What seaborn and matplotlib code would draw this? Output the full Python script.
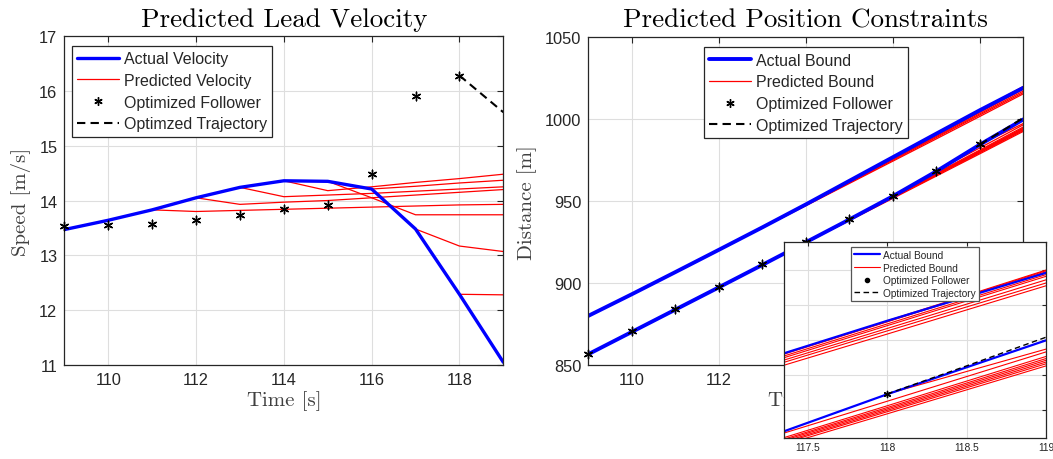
import numpy as np
import pandas as pd
import matplotlib
matplotlib.use("Agg")
import matplotlib.pyplot as plt
import seaborn as sns
from matplotlib.lines import Line2D

# ---------------- left panel: velocities ----------------
time = [109, 110, 111, 112, 113, 114, 115, 116, 117, 118, 119]
lead_velocity = [13.47, 13.64, 13.83, 14.05, 14.24, 14.36, 14.35, 14.21, 13.48, 12.29, 11.05]
follower_time = [109, 110, 111, 112, 113, 114, 115, 116, 117, 118]
follower_velocity = [13.54, 13.55, 13.58, 13.65, 13.74, 13.85, 13.92, 14.49, 15.90, 16.28]
traj_time_v = [118, 119]
traj_velocity = [16.28, 15.61]

pred_start = [111, 112, 113, 114, 115, 116, 117, 118]
pred_v_111 = [13.83, 13.80, 13.82, 13.84, 13.86, 13.88, 13.90, 13.92, 13.93]
pred_v_112 = [14.05, 13.93, 13.97, 14.00, 14.05, 14.10, 14.15, 14.20]
pred_v_113 = [14.24, 14.07, 14.10, 14.13, 14.17, 14.21, 14.25]
pred_v_114 = [14.36, 14.18, 14.25, 14.33, 14.40, 14.48]
pred_v_115 = [14.35, 14.05, 13.74, 13.74, 13.74]
pred_v_116 = [14.21, 14.26, 14.32, 14.37]
pred_v_117 = [13.48, 13.17, 13.07]
pred_v_118 = [12.29, 12.28]

# ---------------- right panel: positions ----------------
upper_bound = [880.0, 893.2, 906.7, 920.3, 934.0, 948.0, 962.4, 976.8, 991.2, 1005.5, 1019.2]
lower_bound = [856.6, 870.2, 883.8, 897.4, 911.1, 924.9, 938.8, 953.0, 968.2, 984.5, 999.9]
follower_position = [857.0, 870.5, 884.1, 897.7, 911.4, 925.2, 939.1, 953.3, 968.5, 984.6]
traj_time_p = [118, 118.5, 119]
traj_position = [984.6, 992.6, 1000.8]

pred_up_111 = [906.7, 920.2, 933.7, 947.2, 960.8, 974.4, 988.0, 1001.7, 1015.5]
pred_up_112 = [920.3, 933.8, 947.5, 961.2, 975.0, 988.8, 1002.6, 1016.3]
pred_up_113 = [934.0, 947.7, 961.6, 975.5, 989.4, 1003.3, 1017.2]
pred_up_114 = [948.0, 962.0, 976.0, 990.0, 1004.1, 1018.2]
pred_up_115 = [962.4, 976.5, 990.5, 1004.6, 1018.7]
pred_up_116 = [976.8, 991.0, 1005.2, 1019.5]
pred_up_117 = [991.2, 1005.3, 1019.8]
pred_up_118 = [1005.5, 1020.0]

pred_lo_111 = [884.1, 897.6, 911.1, 924.6, 938.1, 951.7, 965.3, 978.9, 992.6]
pred_lo_112 = [897.7, 911.3, 924.9, 938.5, 952.1, 965.8, 979.5, 993.2]
pred_lo_113 = [911.4, 925.0, 938.7, 952.4, 966.1, 979.9, 993.7]
pred_lo_114 = [925.2, 938.9, 952.7, 966.5, 980.3, 994.2]
pred_lo_115 = [939.1, 952.9, 966.8, 980.7, 994.7]
pred_lo_116 = [953.3, 967.2, 981.2, 995.3]
pred_lo_117 = [968.5, 982.5, 996.6]
pred_lo_118 = [984.6, 997.4]

left_xticks = [110, 112, 114, 116, 118]
left_yticks = [11, 12, 13, 14, 15, 16, 17]
right_yticks = [850, 900, 950, 1000, 1050]
inset_xticks = [117.5, 118, 118.5, 119]
inset_xticklabels = ["117.5", "118", "118.5", "119"]
inset_yticks = [980, 990, 1000, 1010, 1020]


def long_df(starts, series):
    rows = []
    for k, vals in zip(starts, series):
        for i, v in enumerate(vals):
            rows.append({"start": k, "t": k + i, "value": v})
    return pd.DataFrame(rows)


pred_v_df = long_df(pred_start, [pred_v_111, pred_v_112, pred_v_113, pred_v_114,
                                 pred_v_115, pred_v_116, pred_v_117, pred_v_118])
pred_up_df = long_df(pred_start, [pred_up_111, pred_up_112, pred_up_113, pred_up_114,
                                  pred_up_115, pred_up_116, pred_up_117, pred_up_118])
pred_lo_df = long_df(pred_start, [pred_lo_111, pred_lo_112, pred_lo_113, pred_lo_114,
                                  pred_lo_115, pred_lo_116, pred_lo_117, pred_lo_118])

sns.set_style("white")
plt.rcParams["font.family"] = ["Liberation Sans", "DejaVu Sans"]
plt.rcParams["axes.unicode_minus"] = False

AXC = "#262626"
GRID = "#dedede"
SERIF = ["cmr10", "DejaVu Serif"]
STAR = (6, 2, 0)
DASH = (0, (4, 2.5))

fig = plt.figure(figsize=(10.53, 4.60), dpi=100)
ax1 = fig.add_axes([0.0611, 0.2043, 0.4169, 0.7152])
ax2 = fig.add_axes([0.5587, 0.2043, 0.4131, 0.7124])
ax3 = fig.add_axes([0.7446, 0.0450, 0.2488, 0.4274])


def style_axes(ax, labelsize):
    ax.set_facecolor("white")
    for s in ax.spines.values():
        s.set_visible(True)
        s.set_color(AXC)
        s.set_linewidth(0.9)
    ax.tick_params(direction="in", top=True, right=True, length=4, width=0.8,
                   colors=AXC, labelsize=labelsize, pad=5)
    ax.grid(True, color=GRID, lw=0.8)
    ax.set_axisbelow(True)


# ---------- left ----------
sns.lineplot(data=pred_v_df, x="t", y="value", units="start", estimator=None,
             color="red", lw=0.9, ax=ax1, legend=False, sort=False)
sns.lineplot(x=time, y=lead_velocity, color="blue", lw=2.4, ax=ax1, sort=False)
sns.scatterplot(x=follower_time, y=follower_velocity, marker=STAR, s=38,
                color="black", linewidth=1.0, ax=ax1, clip_on=False, zorder=5)
sns.lineplot(x=traj_time_v, y=traj_velocity, color="black", lw=1.5, ax=ax1,
             linestyle=DASH)
ax1.set_xlim(109, 119)
ax1.set_ylim(11, 17)
ax1.set_xticks(left_xticks)
ax1.set_yticks(left_yticks)
style_axes(ax1, 11.8)
ax1.set_title("Predicted Lead Velocity", family=SERIF, fontsize=19.5, color="black", pad=7)
ax1.set_xlabel("Time [s]", family=SERIF, fontsize=15, color="#404040", labelpad=2)
ax1.set_ylabel("Speed [m/s]", family=SERIF, fontsize=15, color="#404040", labelpad=6)

h1 = [Line2D([], [], color="blue", lw=2.4),
      Line2D([], [], color="red", lw=0.9),
      Line2D([], [], color="black", ls="", marker=STAR, markersize=6, mew=1.0),
      Line2D([], [], color="black", lw=1.5, ls=DASH)]
leg1 = ax1.legend(h1, ["Actual Velocity", "Predicted Velocity", "Optimized Follower",
                       "Optimzed Trajectory"],
                  loc="upper left", bbox_to_anchor=(0.0169, 0.9705), borderaxespad=0,
                  fontsize=11.5, frameon=True, fancybox=False, framealpha=1,
                  edgecolor=AXC, handlelength=2.6, handletextpad=0.3,
                  labelspacing=0.42, borderpad=0.35)
leg1.get_frame().set_linewidth(0.9)


# ---------- right ----------
def draw_positions(ax, blue_lw, red_lw, star_s, dash_lw, clip):
    sns.lineplot(data=pred_up_df, x="t", y="value", units="start", estimator=None,
                 color="red", lw=red_lw, ax=ax, legend=False, sort=False)
    sns.lineplot(data=pred_lo_df, x="t", y="value", units="start", estimator=None,
                 color="red", lw=red_lw, ax=ax, legend=False, sort=False)
    sns.lineplot(x=time, y=upper_bound, color="blue", lw=blue_lw, ax=ax, sort=False)
    sns.lineplot(x=time, y=lower_bound, color="blue", lw=blue_lw, ax=ax, sort=False)
    sns.lineplot(x=traj_time_p, y=traj_position, color="black", lw=dash_lw, ax=ax,
                 linestyle=DASH)
    sns.scatterplot(x=follower_time, y=follower_position, marker=STAR, s=star_s,
                    color="black", linewidth=1.0, ax=ax, clip_on=clip, zorder=5)


draw_positions(ax2, 2.8, 0.9, 38, 1.5, False)
ax2.set_xlim(109, 119)
ax2.set_ylim(850, 1050)
ax2.set_xticks(left_xticks)
ax2.set_yticks(right_yticks)
style_axes(ax2, 11.8)
ax2.set_title("Predicted Position Constraints", family=SERIF, fontsize=19.5, color="black", pad=8)
ax2.set_xlabel("Time [s]", family=SERIF, fontsize=15, color="#404040", labelpad=2)
ax2.set_ylabel("Distance [m]", family=SERIF, fontsize=15, color="#404040", labelpad=6)

h2 = [Line2D([], [], color="blue", lw=2.8),
      Line2D([], [], color="red", lw=0.9),
      Line2D([], [], color="black", ls="", marker=STAR, markersize=6, mew=1.0),
      Line2D([], [], color="black", lw=1.5, ls=DASH)]
leg2 = ax2.legend(h2, ["Actual Bound", "Predicted Bound", "Optimized Follower",
                       "Optimized Trajectory"],
                  loc="upper center", bbox_to_anchor=(0.5, 0.970), borderaxespad=0,
                  fontsize=11.5, frameon=True, fancybox=False, framealpha=1,
                  edgecolor=AXC, handlelength=2.6, handletextpad=0.3,
                  labelspacing=0.42, borderpad=0.35)
leg2.get_frame().set_linewidth(0.9)

# ---------- inset ----------
draw_positions(ax3, 1.6, 0.8, 20, 1.0, True)
ax3.set_xlim(117.35, 119)
ax3.set_ylim(971.9, 1028.1)
ax3.set_xticks(inset_xticks)
ax3.set_xticklabels(inset_xticklabels)
ax3.set_yticks(inset_yticks)
ax3.set_yticklabels([])
style_axes(ax3, 7.4)
ax3.tick_params(length=3, pad=3)
ax3.set_xlabel("")
ax3.set_ylabel("")
h3 = [Line2D([], [], color="blue", lw=1.6),
      Line2D([], [], color="red", lw=0.8),
      Line2D([], [], color="black", ls="", marker=".", markersize=6),
      Line2D([], [], color="black", lw=1.0, ls=DASH)]
leg3 = ax3.legend(h3, ["Actual Bound", "Predicted Bound", "Optimized Follower",
                       "Optimized Trajectory"],
                  loc="upper center", bbox_to_anchor=(0.5, 0.973), borderaxespad=0,
                  fontsize=7.3, frameon=True, fancybox=False, framealpha=1,
                  edgecolor="#555555", handlelength=2.6, handletextpad=0.3,
                  labelspacing=0.25, borderpad=0.3)
leg3.get_frame().set_linewidth(0.9)

fig.savefig("out.png", dpi=100, facecolor="white")
